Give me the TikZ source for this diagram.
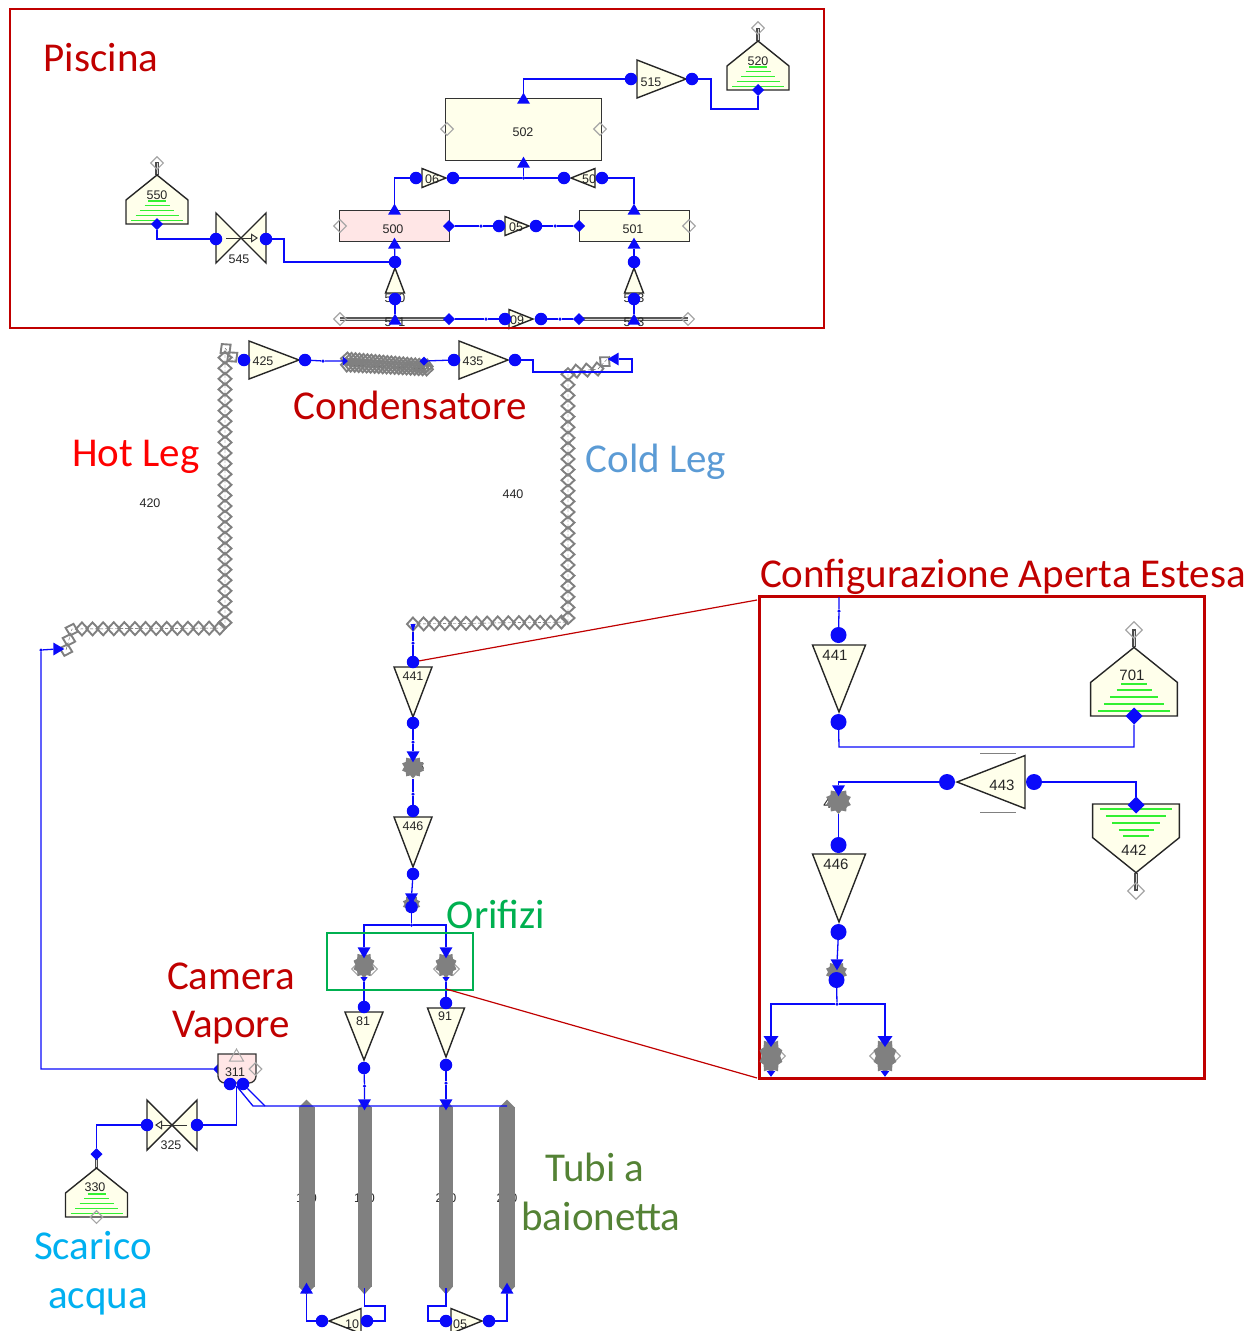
\documentclass[tikz,border=0pt]{standalone}
\usepackage{fontspec}
\setmainfont{Carlito}
\newfontfamily\numfont{Liberation Sans}
\usepackage{xcolor}
\usepackage{tikz}
\usetikzlibrary{shapes.geometric, arrows.meta, positioning, decorations.markings}
\definecolor{portblue}{RGB}{10,10,250}
\definecolor{cream}{RGB}{255,255,235}
\definecolor{rosebg}{RGB}{255,230,230}
\definecolor{tubegray}{RGB}{128,128,128}
\definecolor{darkred}{RGB}{192,0,0}
\definecolor{orifgreen}{RGB}{0,176,80}
\definecolor{tubegreen}{RGB}{84,130,53}
\definecolor{coldblue}{RGB}{91,155,213}
\definecolor{scaricoblue}{RGB}{0,176,240}
\definecolor{levelgreen}{RGB}{50,240,50}
\tikzset{
  conn/.style={portblue, line width=1.3pt},
  port/.style={circle, fill=portblue, minimum size=12.5pt, inner sep=0pt, outer sep=0pt},
  bigport/.style={circle, fill=portblue, minimum size=16pt, inner sep=0pt, outer sep=0pt},
  jport/.style={diamond, fill=portblue, minimum size=12pt, inner sep=0pt, outer sep=0pt},
  bigjport/.style={diamond, fill=portblue, minimum size=17pt, inner sep=0pt, outer sep=0pt},
  dot/.style={circle, fill=portblue, minimum size=3.5pt, inner sep=0pt, outer sep=0pt},
  gdiam/.style={diamond, draw=gray!70, line width=1.1pt, minimum size=13pt, inner sep=0pt},
  biggdiam/.style={diamond, draw=gray!70, line width=1.3pt, minimum size=17pt, inner sep=0pt},
  vessel/.style={rectangle, draw=black!80, line width=1.4pt, fill=cream, inner sep=0pt, anchor=north west},
  tri/.style={isosceles triangle, isosceles triangle stretches, draw=black!85, fill=cream,
    line width=1.4pt, inner sep=0pt, outer sep=0pt, anchor=apex},
  tridown/.style 2 args={tri, shape border rotate=270, minimum width=#1, minimum height=#2},
  triup/.style 2 args={tri, shape border rotate=90, minimum width=#1, minimum height=#2},
  triright/.style 2 args={tri, shape border rotate=0, minimum width=#1, minimum height=#2},
  trileft/.style 2 args={tri, shape border rotate=180, minimum width=#1, minimum height=#2},
  flow/.style={isosceles triangle, isosceles triangle stretches, fill=portblue, inner sep=0pt,
    outer sep=0pt, minimum width=13pt, minimum height=11pt},
  flowup/.style={flow, shape border rotate=90},
  flowdown/.style={flow, shape border rotate=270},
  flowright/.style={flow, shape border rotate=0},
  flowleft/.style={flow, shape border rotate=180},
  tubetip/.style={flow, fill=tubegray, minimum width=#1, minimum height=8pt},
  blob/.style={star, star points=10, star point ratio=1.3, fill=tubegray, minimum size=23pt, inner sep=0pt},
  tube/.style={rectangle, fill=tubegray, inner sep=0pt, minimum width=#1, minimum height=180pt},
  pipe/.style={black!70, densely dashed, thin, postaction={decorate}, decoration={markings,
    mark=between positions 0 and 1 step #1 with {
      \draw[tubegray, solid, line width=1.9pt] (-6pt,0pt) -- (0pt,6.5pt) -- (6pt,0pt) -- (0pt,-6.5pt) -- cycle;}}},
  redbox/.style={rectangle, draw=darkred, inner sep=0pt, anchor=north west},
  callout/.style={darkred, line width=1.2pt},
  num/.style={font=\numfont\fontsize{12.5}{14}\selectfont, inner sep=0pt, text=black!85},
  bignum/.style={font=\numfont\fontsize{15}{17}\selectfont, inner sep=0pt, text=black!85},
  caption/.style={font=\fontsize{41}{44}\selectfont, inner sep=0pt, anchor=base},
  pics/tank/.style={code={
    \draw[gray!60!black, line width=3.2pt] (0,-49) -- (0,-62);
    \draw[white!85!black, line width=1pt] (0,-50) -- (0,-61);
    \draw[black!85, fill=cream, line width=1.4pt] (-31,0) -- (-31,-24) -- (0,-49) -- (31,-24) -- (31,0) -- cycle;
    \foreach \lvl/\half in {-23/9, -18.5/12.5, -13.5/17, -8.5/21.5, -3.5/26}
      \draw[levelgreen, line width=1.5pt] (-\half,\lvl) -- (\half,\lvl);
  }},
  pics/valve/.style={code={
    \draw[black!85, fill=cream, line width=1.4pt] (-25,-25) -- (25,25) -- (25,-25) -- (-25,25) -- cycle;
    \draw[black!80, line width=1pt, -{Triangle[open, length=7pt, width=9pt]}] (-15,0) -- (17,0);
  }},
}
\begin{document}
\begin{tikzpicture}[x=1pt, y=-1pt]
  \useasboundingbox (0,0) rectangle (1259,1331);

  % pipes
  \coordinate (hotA) at (66,650);
  \coordinate (hotB) at (72,629);
  \coordinate (hotC) at (225,628);
  \coordinate (hotD) at (225,348);
  \coordinate (hotE) at (238,364);
  \coordinate (coldA) at (413,624);
  \coordinate (coldB) at (568,622);
  \coordinate (coldC) at (568,372);
  \coordinate (coldD) at (598,369);
  \coordinate (coldE) at (610,356);
  \draw[pipe=10.6pt] (hotA) -- (hotB) -- (hotC) -- (hotD) -- (hotE);
  \draw[pipe=10.6pt] (coldA) -- (coldB) -- (coldC) -- (coldD) -- (coldE);
  \coordinate (condA) at (347,359);
  \coordinate (condB) at (427,366);
  \coordinate (condC) at (347,365);
  \coordinate (condD) at (427,369);
  \draw[pipe=4pt] (condA) -- (condB);
  \draw[pipe=4pt] (condC) -- (condD);
  \node[num] (n420) at (150,503) {420};
  \node[num] (n440) at (513,494) {440};

  % pool
  \node[vessel, minimum width=156pt, minimum height=62pt] (v502) at (445,98) {};
  \node[vessel, fill=rosebg, minimum width=110pt, minimum height=31pt] (v500) at (339,210) {};
  \node[vessel, minimum width=110pt, minimum height=31pt] (v501) at (579,210) {};
  \node[num] (n502) at (523,132) {502};
  \node[num] (n500) at (393,229) {500};
  \node[num] (n501) at (633,229) {501};
  \node[gdiam] (g502a) at (447,129) {};
  \node[gdiam] (g502b) at (600,129) {};
  \node[gdiam] (g500) at (340,226) {};
  \node[gdiam] (g501) at (689,226) {};
  \pic (t550) at (157,224) {tank};
  \pic (t520) at (758,90) {tank};
  \node[num] (n550) at (157,195) {550};
  \node[num] (n520) at (758,61) {520};
  \node[gdiam] (g550) at (157,163) {};
  \node[gdiam] (g520) at (758,28) {};
  \node[jport] (j550) at (157,224) {};
  \node[jport] (j520) at (758,90) {};
  \pic (s545) at (241,238) {valve};
  \node[num] (n545) at (239,259) {545};

  \node[triright={38pt}{49pt}] (v515) at (686,79) {};
  \node[triright={19pt}{24pt}] (v506) at (446,178) {};
  \node[trileft={19pt}{24pt}] (v507) at (571,178) {};
  \node[triright={19pt}{24pt}] (v505) at (529,226) {};
  \node[triright={19pt}{24pt}] (v509) at (533,319) {};
  \node[triup={19pt}{25pt}] (v530) at (395,268) {};
  \node[triup={19pt}{25pt}] (v533) at (634,268) {};
  \node[num] (n515) at (651,82) {515};
  \node[num] (n506) at (432,179) {06};
  \node[num] (n507) at (589,179) {50};
  \node[num] (n505) at (516,227) {05};
  \node[num] (n509) at (517,320) {09};
  \node[num] (n530) at (395,298) {5\phantom{1}0};
  \node[num] (n533) at (634,298) {5\phantom{1}3};

  \coordinate (railA) at (340,319);
  \coordinate (railB) at (449,319);
  \coordinate (railC) at (579,319);
  \coordinate (railD) at (688,319);
  \draw[black!65, line width=3.2pt] (railA) -- (railB);
  \draw[black!65, line width=3.2pt] (railC) -- (railD);
  \draw[white!85!black, line width=1pt] (railA) -- (railB);
  \draw[white!85!black, line width=1pt] (railC) -- (railD);
  \node[gdiam] (g541) at (340,319) {};
  \node[gdiam] (g543) at (688,319) {};
  \node[num] (n541) at (395,322) {5\phantom{1}1};
  \node[num] (n543) at (634,322) {5\phantom{1}3};

  \node[port] (p515a) at (631,79) {};
  \node[port] (p515b) at (692,79) {};
  \node[port] (p506a) at (416,178) {};
  \node[port] (p506b) at (453,178) {};
  \node[port] (p507a) at (564,178) {};
  \node[port] (p507b) at (602,178) {};
  \node[port] (p505a) at (499,226) {};
  \node[port] (p505b) at (536,226) {};
  \node[port] (p509a) at (505,319) {};
  \node[port] (p509b) at (541,319) {};
  \node[port] (p530a) at (395,262) {};
  \node[port] (p530b) at (395,299) {};
  \node[port] (p533a) at (634,262) {};
  \node[port] (p533b) at (634,299) {};
  \node[port] (p545a) at (216,239) {};
  \node[port] (p545b) at (266,239) {};
  \node[jport] (j500) at (449,226) {};
  \node[jport] (j501) at (579,226) {};
  \node[jport] (j541) at (449,319) {};
  \node[jport] (j543) at (579,319) {};
  \node[flowup] (f502a) at (523.5,100) {};
  \node[flowup] (f502b) at (523.5,164) {};
  \node[flowup] (f500a) at (394.5,211) {};
  \node[flowup] (f500b) at (394.5,245) {};
  \node[flowup] (f501a) at (634,211) {};
  \node[flowup] (f501b) at (634,245) {};
  \node[flowup] (f541) at (395,321) {};
  \node[flowup] (f543) at (634,321) {};
  \node[dot] (d502) at (523.5,178) {};
  \node[dot] (d505a) at (481,226) {};
  \node[dot] (d505b) at (555,226) {};
  \node[dot] (d509a) at (486,319) {};
  \node[dot] (d509b) at (560,319) {};
  \coordinate (c520a) at (711,109);
  \coordinate (c545a) at (284,262);

  \draw[conn] (f502a) |- (p515a);
  \draw[conn] (p515b) -| (c520a) -| (j520);
  \draw[conn] (f500a) |- (p506a);
  \draw[conn] (p506b) -- (d502) -- (p507a);
  \draw[conn] (d502) -- (f502b);
  \draw[conn] (p507b) -| (f501a);
  \draw[conn] (j500) -- (d505a) -- (p505a);
  \draw[conn] (p505b) -- (d505b) -- (j501);
  \draw[conn] (j541) -- (d509a) -- (p509a);
  \draw[conn] (p509b) -- (d509b) -- (j543);
  \draw[conn] (j550) |- (p545a);
  \draw[conn] (p545b) -| (c545a) -- (p530a);
  \draw[conn] (p530a) -- (f500b);
  \draw[conn] (p533a) -- (f501b);
  \draw[conn] (f541) -- (p530b);
  \draw[conn] (f543) -- (p533b);

  % condenser line
  \node[triright={38pt}{50pt}] (v425) at (299,360) {};
  \node[triright={38pt}{49pt}] (v435) at (508,360) {};
  \node[num] (n425) at (263,361) {425};
  \node[num] (n435) at (473,361) {435};
  \node[port] (p425a) at (244,360) {};
  \node[port] (p425b) at (305,360) {};
  \node[port] (p435a) at (454,360) {};
  \node[port] (p435b) at (515,360) {};
  \node[flowright, minimum width=9pt, minimum height=5pt] (fcondA) at (345,361) {};
  \node[jport, minimum size=9pt] (fcondB) at (424,361) {};
  \node[flowleft] (fcoldE) at (615,359) {};
  \node[dot] (d425) at (323,361) {};
  \coordinate (c435a) at (533,372);
  \coordinate (c435b) at (632,372);
  \draw[conn] (p425b) -- (d425) -- (fcondA);
  \draw[conn] (fcondB) -- (p435a);
  \draw[conn] (p435b) -| (c435a) -- (c435b) |- (fcoldE);

  % hot leg return and riser
  \node[flowright] (fhot) at (57,649) {};
  \node[dot] (d311a) at (41,650) {};
  \node[jport] (j311) at (219,1069) {};
  \draw[conn] (fhot) -- (d311a) |- (j311);

  % cold leg descent
  \node[flowdown, minimum width=5pt, minimum height=8pt] (fcold) at (413,626) {};
  \node[tridown={38pt}{50pt}] (v441) at (413,717) {};
  \node[tridown={38pt}{50pt}] (v446) at (413,867) {};
  \node[num] (n441) at (413,676) {441};
  \node[num] (n446) at (413,826) {446};
  \node[num] (n445) at (414,767) {4\phantom{4}5};
  \node[blob] (b445) at (413,767) {};
  \node[blob, minimum size=18pt] (b447) at (411.5,904) {};
  \node[port] (p441a) at (413,662) {};
  \node[port] (p441b) at (413,723) {};
  \node[port] (p446a) at (413,811) {};
  \node[port] (p446b) at (413,874) {};
  \node[port] (p447) at (411.5,907) {};
  \node[dot] (d441a) at (413,643) {};
  \node[dot] (d441b) at (413,742) {};
  \node[dot] (d446a) at (413,794) {};
  \node[flowdown] (f445) at (413,755) {};
  \node[flowdown] (f447) at (411.5,897) {};
  \node[dot] (dsplit) at (411.5,925) {};
  \draw[conn] (fcold) -- (d441a) -- (p441a);
  \draw[conn] (p441b) -- (d441b) -- (f445);
  \draw[conn] (b445) -- (d446a) -- (p446a);
  \draw[conn] (p446b) -- (f447);
  \draw[conn] (p447) -- (dsplit);

  % orifices
  \node[gdiam] (g81a) at (358,969) {};
  \node[gdiam] (g81b) at (371,969) {};
  \node[gdiam] (g91a) at (440,969) {};
  \node[gdiam] (g91b) at (453,969) {};
  \node[blob, minimum size=22pt, yscale=1.25] (b81) at (364,965) {};
  \node[blob, minimum size=22pt, yscale=1.25] (b91) at (446,965) {};
  \node[flowdown] (f81) at (364,951) {};
  \node[flowdown] (f91) at (446,951) {};
  \node[flowdown, minimum width=7pt, minimum height=5pt] (e81) at (364,979) {};
  \node[flowdown, minimum width=7pt, minimum height=5pt] (e91) at (446,979) {};
  \node[tridown={38pt}{48pt}] (v81) at (364,1060) {};
  \node[tridown={37pt}{49pt}] (v91) at (446,1057) {};
  \node[num] (n81) at (363,1021) {81};
  \node[num] (n91) at (445,1016) {91};
  \node[port] (p81a) at (364,1007) {};
  \node[port] (p81b) at (364,1068) {};
  \node[port] (p91a) at (446,1003) {};
  \node[port] (p91b) at (446,1065) {};
  \draw[conn] (dsplit) -| (f81);
  \draw[conn] (dsplit) -| (f91);
  \draw[conn] (e81) -- (p81a);
  \draw[conn] (e91) -- (p91a);
  \node[redbox, draw=orifgreen, line width=2.6pt, minimum width=146pt, minimum height=57pt] (orifbox) at (325.5,931.5) {};

  % bayonet tubes
  \node[num] (n110) at (306.5,1198) {1\phantom{1}0};
  \node[num] (n120) at (364.5,1198) {1\phantom{1}0};
  \node[num] (n210) at (446,1198) {2\phantom{1}0};
  \node[num] (n220) at (507,1198) {2\phantom{1}0};
  \node[tube=16pt] (tb110) at (306.5,1197) {};
  \node[tube=14pt] (tb120) at (364.5,1197) {};
  \node[tube=14pt] (tb210) at (446,1197) {};
  \node[tube=16pt] (tb220) at (507,1197) {};
  \foreach \tx/\tw/\tname in {306.5/16/a, 364.5/14/b, 446/14/c, 507/16/d} {
    \node[tubetip=\tw pt, shape border rotate=90, anchor=lower side] (tip\tname) at (\tx,1107.5) {};
    \node[tubetip=\tw pt, shape border rotate=270, anchor=lower side] (toe\tname) at (\tx,1286.5) {};
  }
  \node[flowdown] (ftb120) at (364.5,1103) {};
  \node[flowdown] (ftb210) at (446,1103) {};
  \node[flowup] (ftb110) at (306.5,1290) {};
  \node[flowup] (ftb220) at (507,1290) {};
  \node[dot] (d81) at (364.5,1086) {};
  \node[dot] (d91) at (446,1083) {};
  \coordinate (c120a) at (364.5,1288);
  \coordinate (c210a) at (446,1288);
  \node[trileft={25pt}{32pt}] (v104) at (329,1321) {};
  \node[triright={25pt}{31pt}] (v205) at (482,1321) {};
  \node[num] (n104) at (352,1324) {10};
  \node[num] (n205) at (460,1324) {05};
  \node[port] (p104a) at (322,1321) {};
  \node[port] (p104b) at (367,1321) {};
  \node[port] (p205a) at (446,1321) {};
  \node[port] (p205b) at (489,1321) {};
  \coordinate (c104a) at (385,1306);
  \coordinate (c104b) at (385,1321);
  \coordinate (c205a) at (428,1306);
  \coordinate (c205b) at (428,1321);
  \draw[conn] (p81b) -- (d81) -- (ftb120);
  \draw[conn] (p91b) -- (d91) -- (ftb210);
  \draw[conn] (ftb110) |- (p104a);
  \draw[conn] (c120a) |- (c104a) -- (c104b) -- (p104b);
  \draw[conn] (c210a) |- (c205a) -- (c205b) -- (p205a);
  \draw[conn] (p205b) -| (ftb220);

  % steam chamber
  \draw[black!80, fill=rosebg, line width=1.3pt] (218,1054) -- (256,1054) [rounded corners=7pt] -- (256,1083) -- (218,1083) [sharp corners] -- cycle;
  \node[num] (n311) at (235,1072) {311};
  \node[isosceles triangle, isosceles triangle stretches, shape border rotate=90, draw=gray!70, line width=1pt,
    inner sep=0pt, minimum width=14pt, minimum height=12pt] (g311a) at (236.5,1057) {};
  \node[gdiam] (g311b) at (255.5,1069) {};
  \node[port] (p311a) at (230,1084) {};
  \node[port] (p311b) at (243,1084) {};
  \pic[xscale=-1] (s325) at (172,1125) {valve};
  \node[num] (n325) at (171,1145) {325};
  \node[port] (p325a) at (197,1125) {};
  \node[port] (p325b) at (147,1125) {};
  \pic (t330) at (96.5,1217) {tank};
  \node[num] (n330) at (95,1187) {330};
  \node[gdiam] (g330) at (96.5,1217) {};
  \node[jport] (j330) at (96.5,1154) {};
  \coordinate (c311a) at (236.5,1086);
  \coordinate (c311b) at (236.5,1125);
  \coordinate (cmanA) at (253,1106);
  \coordinate (cmanB) at (265,1106);
  \coordinate (cmanC) at (507,1106);
  \draw[conn] (c311a) -- (c311b) -- (p325a);
  \draw[conn] (p325b) -| (j330);
  \draw[conn] (c311a) -- (cmanA) -- (cmanC);
  \draw[conn] (p311b) -- (cmanB);

  % enlarged view
  \node[redbox, line width=3.4pt, minimum width=445pt, minimum height=482pt] (zoombox) at (757.5,594.5) {};
  \coordinate (zoomA) at (757,600);
  \coordinate (zoomB) at (757,1078);
  \coordinate (orifB) at (446,989);
  \draw[callout] (p441a) -- (zoomA);
  \draw[callout] (orifB) -- (zoomB);

  \pic[scale=1.4] (t701) at (1134,716) {tank};
  \pic[scale=1.4, yscale=-1] (t442) at (1136,804) {tank};
  \node[bignum] (n701) at (1132,675) {701};
  \node[bignum] (n442) at (1134,850) {442};
  \node[biggdiam] (g701) at (1134,630) {};
  \node[biggdiam] (g442) at (1136,891) {};
  \node[bigjport] (j701) at (1134,716) {};
  \node[bigjport] (j442) at (1136,805) {};
  \node[tridown={53pt}{67pt}] (w441) at (839,712) {};
  \node[tridown={53pt}{68pt}] (w446) at (839,922) {};
  \node[trileft={53pt}{68pt}] (w443) at (957,782) {};
  \node[bignum] (m441) at (835,655) {441};
  \node[bignum] (m446) at (836,864) {446};
  \node[bignum] (m443) at (1002,785) {443};
  \node[bignum] (m445) at (836,803) {4\phantom{4}5};
  \node[blob, minimum size=26pt] (u445) at (838.5,801) {};
  \node[blob, minimum size=22pt] (u447) at (836.5,972) {};
  \node[gdiam, minimum size=15pt] (u81a) at (769,1056) {};
  \node[gdiam, minimum size=15pt] (u81b) at (778,1056) {};
  \node[gdiam, minimum size=15pt] (u91a) at (877,1056) {};
  \node[gdiam, minimum size=15pt] (u91b) at (893,1056) {};
  \node[blob, minimum size=28pt, yscale=1.35, xscale=0.85] (u81) at (771,1056) {};
  \node[blob, minimum size=28pt, yscale=1.35, xscale=0.85] (u91) at (885,1056) {};
  \node[bigport] (q441a) at (838.5,635) {};
  \node[bigport] (q441b) at (838.5,722) {};
  \node[bigport] (q443a) at (947,782) {};
  \node[bigport] (q443b) at (1034,782) {};
  \node[bigport] (q446a) at (838.5,845) {};
  \node[bigport] (q446b) at (838.5,932) {};
  \node[bigport] (q447) at (836.5,980) {};
  \node[flowdown] (x445) at (838.5,789) {};
  \node[flowdown] (x447) at (837,963) {};
  \node[flowdown, minimum width=15pt] (x81) at (771,1040) {};
  \node[flowdown, minimum width=15pt] (x91) at (885,1040) {};
  \node[flowdown, minimum width=9pt, minimum height=6pt] (y81) at (771,1073) {};
  \node[flowdown, minimum width=9pt, minimum height=6pt] (y91) at (885,1073) {};
  \node[dot] (dtop) at (839,611) {};
  \node[dot] (dsplit2) at (837,1004) {};
  \coordinate (ctop) at (839,597);
  \coordinate (c441a) at (839,747);
  \coordinate (barA) at (980,753);
  \coordinate (barB) at (1016,753);
  \coordinate (barC) at (980,812);
  \coordinate (barD) at (1016,812);
  \draw[gray, line width=1pt] (barA) -- (barB);
  \draw[gray, line width=1pt] (barC) -- (barD);
  \draw[conn] (ctop) -- (dtop) -- (q441a);
  \draw[conn] (q441b) -- (c441a) -| (j701);
  \draw[conn] (q443a) -| (x445);
  \draw[conn] (q443b) -| (j442);
  \draw[conn] (u445) -- (q446a);
  \draw[conn] (q446b) -- (x447);
  \draw[conn] (q447) -- (dsplit2);
  \draw[conn] (dsplit2) -| (x81);
  \draw[conn] (dsplit2) -| (x91);

  % frame and captions
  \node[redbox, line width=2.4pt, minimum width=814.5pt, minimum height=319.5pt] (poolbox) at (8.5,7.5) {};
  \node[caption, text=darkred] (piscina) at (101,71) {Piscina};
  \node[caption, text=darkred] (condens) at (410,419) {Condensatore};
  \node[caption, text=red] (hotleg) at (136,466) {Hot Leg};
  \node[caption, text=coldblue] (coldleg) at (656,472) {Cold Leg};
  \node[caption, text=darkred] (confige) at (1003,587) {Configurazione Aperta Estesa};
  \node[caption, text=orifgreen] (orifizi) at (496,928) {Orifizi};
  \node[caption, text=darkred] (camera) at (231,989) {Camera};
  \node[caption, text=darkred] (vapore) at (231,1037) {Vapore};
  \node[caption, text=tubegreen] (tubia) at (595,1181) {Tubi a};
  \node[caption, text=tubegreen] (baion) at (601,1230) {baionetta};
  \node[caption, text=scaricoblue] (scarico) at (93,1259) {Scarico};
  \node[caption, text=scaricoblue] (acqua) at (98,1308) {acqua};
\end{tikzpicture}
\end{document}
